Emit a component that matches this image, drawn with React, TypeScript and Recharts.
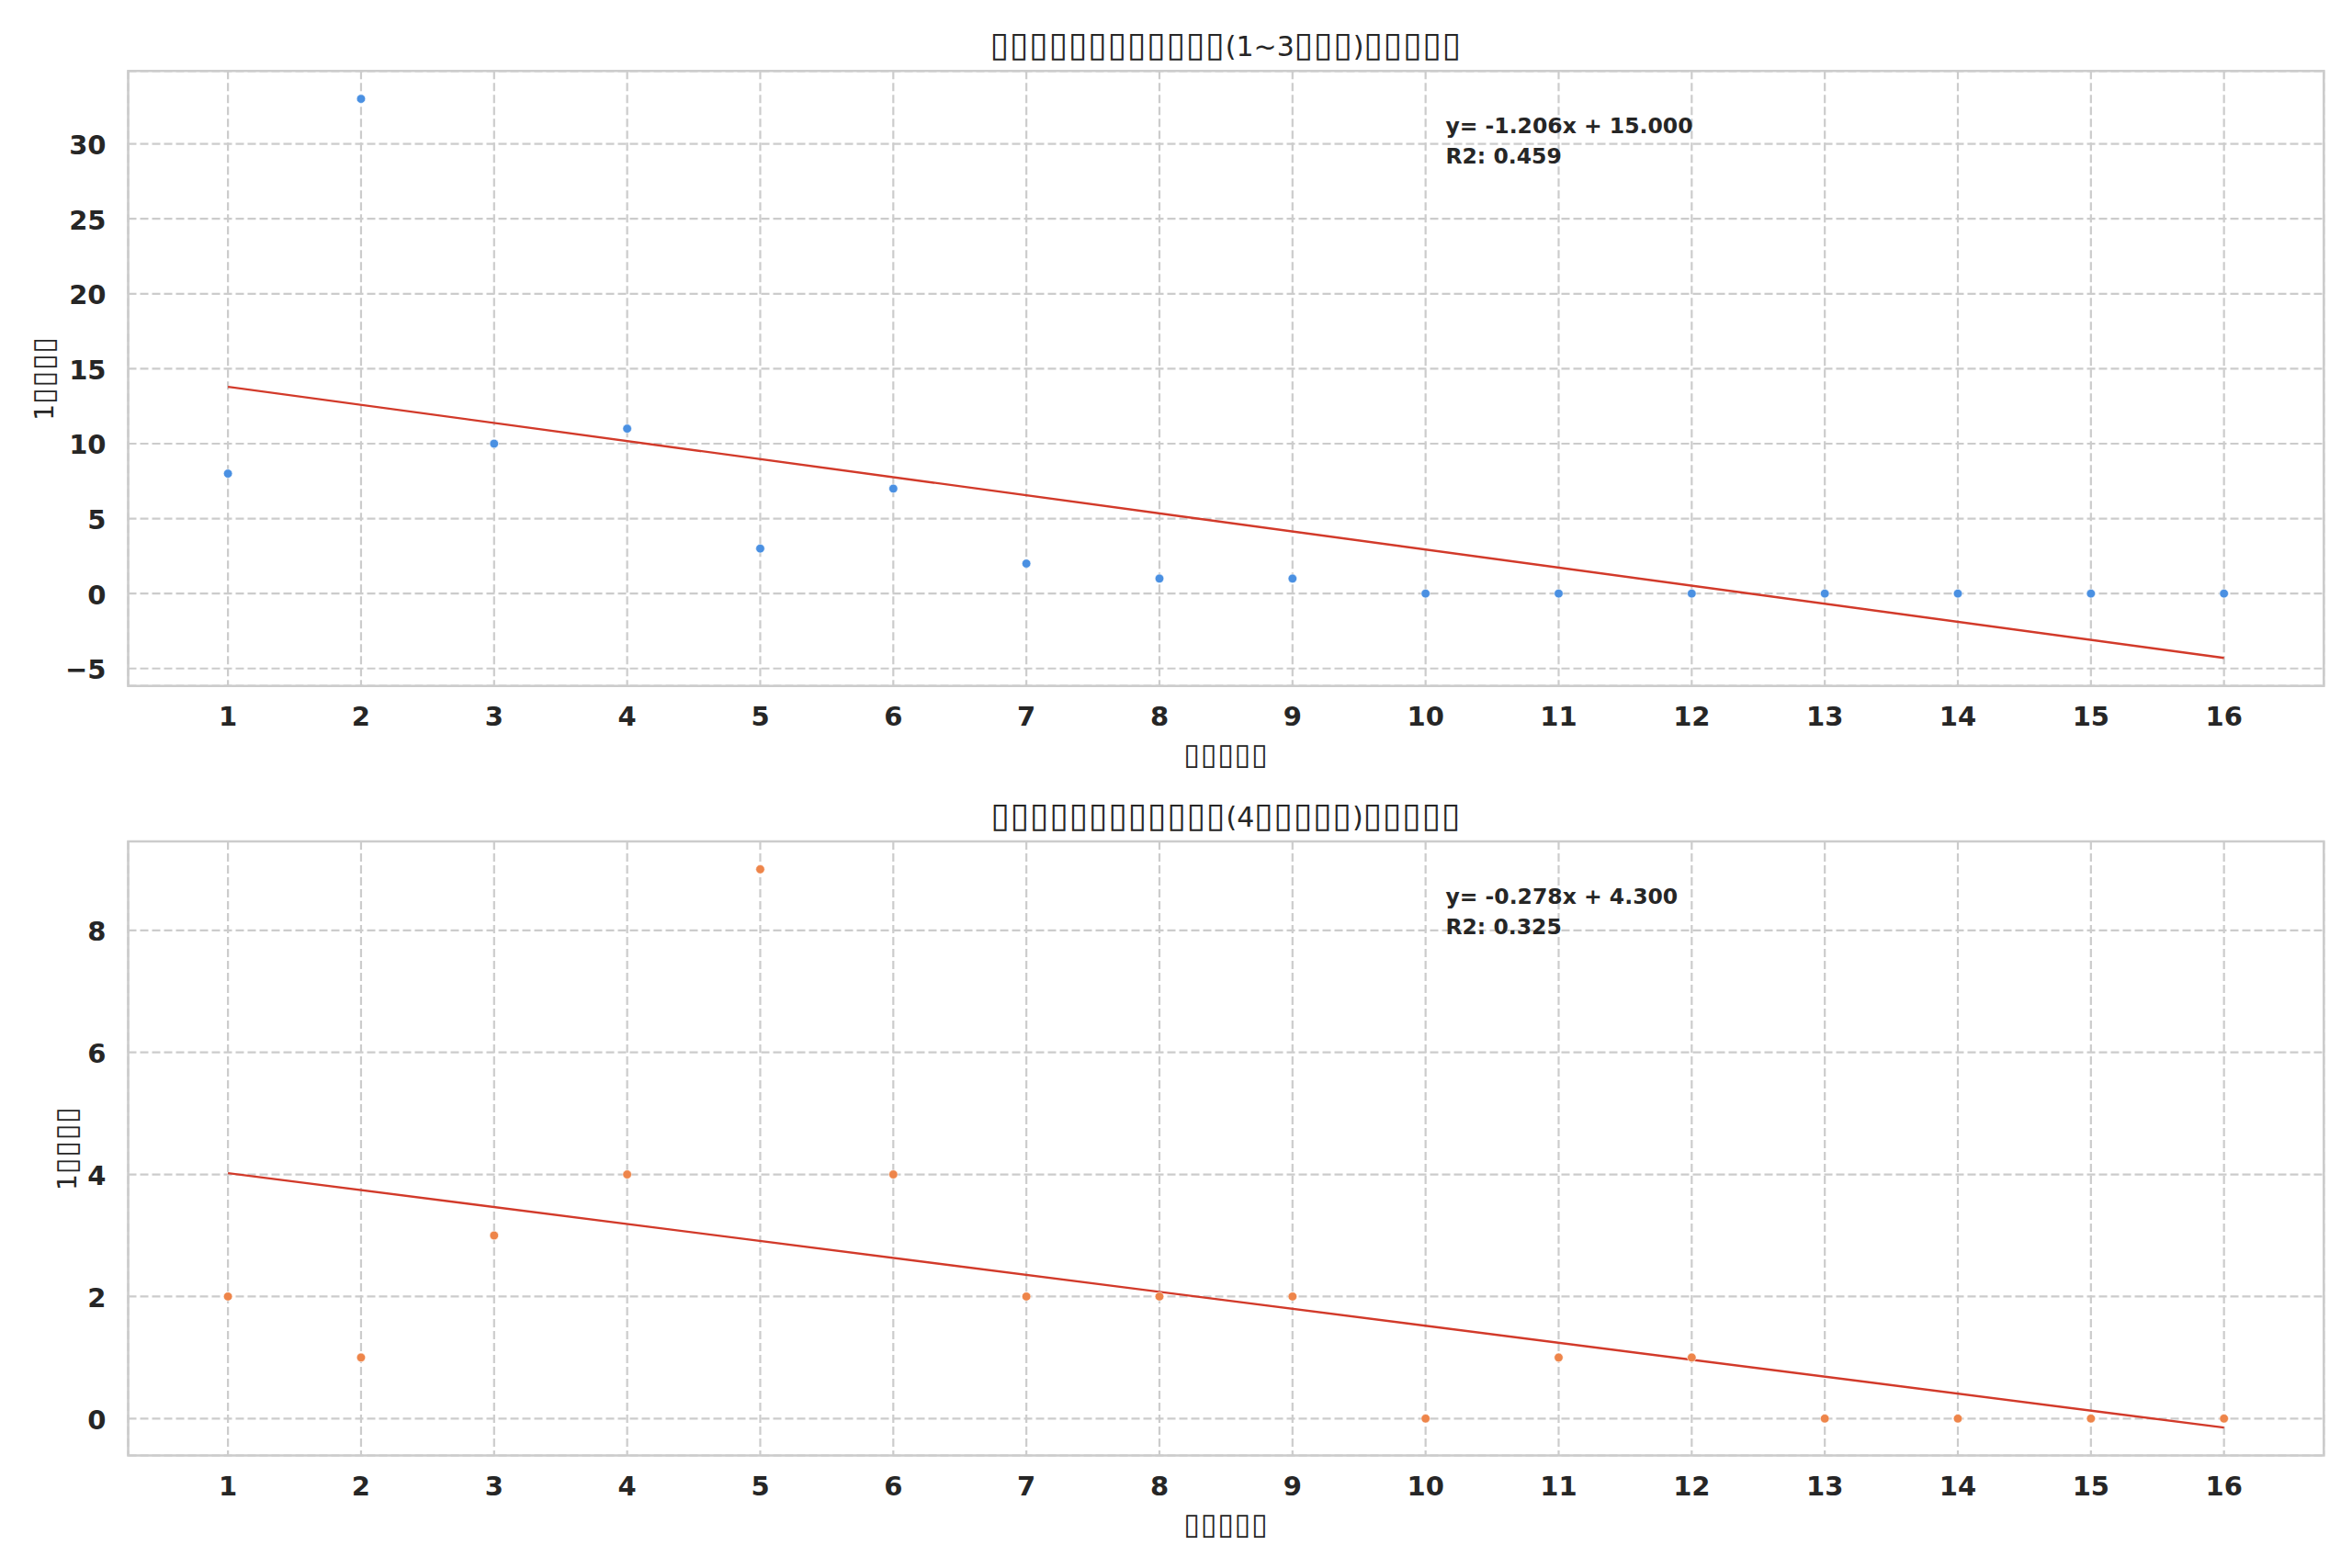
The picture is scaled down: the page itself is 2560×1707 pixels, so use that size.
import React from 'react';
import {
  ScatterChart,
  Scatter,
  XAxis,
  YAxis,
  CartesianGrid,
  ReferenceArea,
} from 'recharts';

// ---------- data ----------
const months = [1, 2, 3, 4, 5, 6, 7, 8, 9, 10, 11, 12, 13, 14, 15, 16];
const earlyCounts = [8, 33, 10, 11, 3, 7, 2, 1, 1, 0, 0, 0, 0, 0, 0, 0];
const lateCounts = [2, 1, 3, 4, 9, 4, 2, 2, 2, 0, 1, 1, 0, 0, 0, 0];

// fitted line end points (x = 1 and x = 16)
const trendX = [1, 16];
const earlyTrend = [13.794, -4.296];
const lateTrend = [4.022, -0.148];

const earlyYTicks = [-5, 0, 5, 10, 15, 20, 25, 30];
const lateYTicks = [0, 2, 4, 6, 8];

const xDomain: [number, number] = [0.25, 16.75];
const earlyYDomain: [number, number] = [-6.16, 34.86];
const lateYDomain: [number, number] = [-0.605, 9.457];

const earlyTitle = '▯▯▯▯▯▯▯▯▯▯▯▯(1~3▯▯▯)▯▯▯▯▯';
const lateTitle = '▯▯▯▯▯▯▯▯▯▯▯▯(4▯▯▯▯▯)▯▯▯▯▯';
const xLabel = '▯▯▯▯▯';
const yLabel = '1▯▯▯▯';
const earlyEq = ['y= -1.206x + 15.000', 'R2: 0.459'];
const lateEq = ['y= -0.278x + 4.300', 'R2: 0.325'];

// ---------- styles ----------
const FONT = 'DejaVu Sans';
const TEXT = '#262626';
const GRID = '#cccccc';
const RED = '#d23a2a';

const W = 2560;
const PANEL_H = 853;
const PLOT_LEFT = 139.5;
const PLOT_RIGHT = 2529.3;
const Y_AXIS_W = 100;

const toPoints = (xs: number[], ys: number[]) => xs.map((x, i) => ({ x, y: ys[i] }));

const fmt = (v: number) => (v < 0 ? '\u2212' + Math.abs(v) : String(v));

// splits a string into runs of box glyphs and other characters
const runs = (s: string) => {
  const out: { box: boolean; t: string }[] = [];
  for (const ch of s) {
    const box = ch === '▯';
    const last = out[out.length - 1];
    if (last && last.box === box) last.t += ch;
    else out.push({ box, t: ch });
  }
  return out;
};

const BoxText = ({ s, size, boxScale }: { s: string; size: number; boxScale: number }) => (
  <>
    {runs(s).map((r, i) =>
      r.box ? (
        <tspan key={i} fontSize={size * boxScale} letterSpacing={0.7}>
          {r.t}
        </tspan>
      ) : (
        <tspan key={i} fontSize={size}>
          {r.t}
        </tspan>
      )
    )}
  </>
);

const XTick = (p: any) => (
  <text
    x={p.x}
    y={p.y + 43.3}
    textAnchor="middle"
    fontFamily={FONT}
    fontWeight="bold"
    fontSize={29}
    fill={TEXT}
  >
    {fmt(p.payload.value)}
  </text>
);

const YTick = (p: any) => (
  <text
    x={p.x - 24}
    y={p.y + 11.5}
    textAnchor="end"
    fontFamily={FONT}
    fontWeight="bold"
    fontSize={29}
    fill={TEXT}
  >
    {fmt(p.payload.value)}
  </text>
);

const NoShape = () => <g />;

type PanelProps = {
  counts: number[];
  trend: number[];
  yDomain: [number, number];
  yTicks: number[];
  color: string;
  marginTop: number;
  marginBottom: number;
};

const Panel = ({ counts, trend, yDomain, yTicks, color, marginTop, marginBottom }: PanelProps) => {
  const pts = toPoints(months, counts);
  const line = toPoints(trendX, trend);
  return (
    <ScatterChart
      width={W}
      height={PANEL_H}
      margin={{
        top: marginTop,
        bottom: marginBottom - 60,
        left: PLOT_LEFT - Y_AXIS_W,
        right: W - PLOT_RIGHT,
      }}
    >
      <CartesianGrid stroke={GRID} strokeWidth={2.2} strokeDasharray="9 4" />
      <XAxis
        type="number"
        dataKey="x"
        domain={xDomain}
        ticks={months}
        interval={0}
        allowDataOverflow
        axisLine={false}
        tickLine={false}
        tickSize={0}
        tickMargin={0}
        height={60}
        tick={<XTick />}
      />
      <YAxis
        type="number"
        dataKey="y"
        domain={yDomain}
        ticks={yTicks}
        interval={0}
        allowDataOverflow
        axisLine={false}
        tickLine={false}
        tickSize={0}
        tickMargin={0}
        width={Y_AXIS_W}
        tick={<YTick />}
      />
      <ReferenceArea
        x1={xDomain[0]}
        x2={xDomain[1]}
        y1={yDomain[0]}
        y2={yDomain[1]}
        fill="none"
        stroke={GRID}
        strokeWidth={2.6}
        ifOverflow="visible"
      />
      <Scatter
        data={line}
        line={{ stroke: RED, strokeWidth: 2.4 }}
        shape={NoShape}
        isAnimationActive={false}
        legendType="none"
      />
      <Scatter
        data={pts}
        fill={color}
        shape={(p: any) => <circle cx={p.cx} cy={p.cy} r={4.8} fill={color} stroke="#ffffff" strokeWidth={0.6} />}
        isAnimationActive={false}
      />
    </ScatterChart>
  );
};

const Texts = () => {
  const cx = (PLOT_LEFT + PLOT_RIGHT) / 2;
  const tops = [77.3, 916];
  const bottoms = [746.7, 1584.5];
  const titles = [earlyTitle, lateTitle];
  const eqs = [earlyEq, lateEq];
  const yLabelX = [58, 82.5];
  return (
    <svg
      width={W}
      height={1707}
      style={{ position: 'absolute', left: 0, top: 0, pointerEvents: 'none' }}
    >
      {tops.map((t, i) => (
        <g key={i}>
          <text x={cx} y={t - 16.5} textAnchor="middle" fontFamily={FONT} fill={TEXT}>
            <BoxText s={titles[i]} size={30} boxScale={1.25} />
          </text>
          <text x={cx} y={bottoms[i] + 85} textAnchor="middle" fontFamily={FONT} fill={TEXT}>
            <BoxText s={xLabel} size={28} boxScale={1.15} />
          </text>
          <text
            x={yLabelX[i]}
            y={(t + bottoms[i]) / 2}
            textAnchor="middle"
            fontFamily={FONT}
            fill={TEXT}
            transform={`rotate(-90 ${yLabelX[i]} ${(t + bottoms[i]) / 2})`}
          >
            <BoxText s={yLabel} size={28} boxScale={1.15} />
          </text>
          {eqs[i].map((s, j) => (
            <text
              key={j}
              x={PLOT_LEFT + 0.6 * (PLOT_RIGHT - PLOT_LEFT)}
              y={t + 67.7 + j * 33}
              fontFamily={FONT}
              fontWeight="bold"
              fontSize={23.5}
              fill={TEXT}
            >
              {s}
            </text>
          ))}
        </g>
      ))}
    </svg>
  );
};

export default function App() {
  return (
    <div
      style={{
        position: 'absolute',
        left: 0,
        top: 0,
        width: W,
        height: 1707,
        background: '#ffffff',
        fontFamily: FONT,
      }}
    >
      <div style={{ position: 'absolute', left: 0, top: 0 }}>
        <Panel
          counts={earlyCounts}
          trend={earlyTrend}
          yDomain={earlyYDomain}
          yTicks={earlyYTicks}
          color="#4a90e2"
          marginTop={77.3}
          marginBottom={PANEL_H - 746.7}
        />
      </div>
      <div style={{ position: 'absolute', left: 0, top: PANEL_H }}>
        <Panel
          counts={lateCounts}
          trend={lateTrend}
          yDomain={lateYDomain}
          yTicks={lateYTicks}
          color="#ee854a"
          marginTop={916 - PANEL_H}
          marginBottom={PANEL_H - (1584.5 - PANEL_H)}
        />
      </div>
      <Texts />
    </div>
  );
}
